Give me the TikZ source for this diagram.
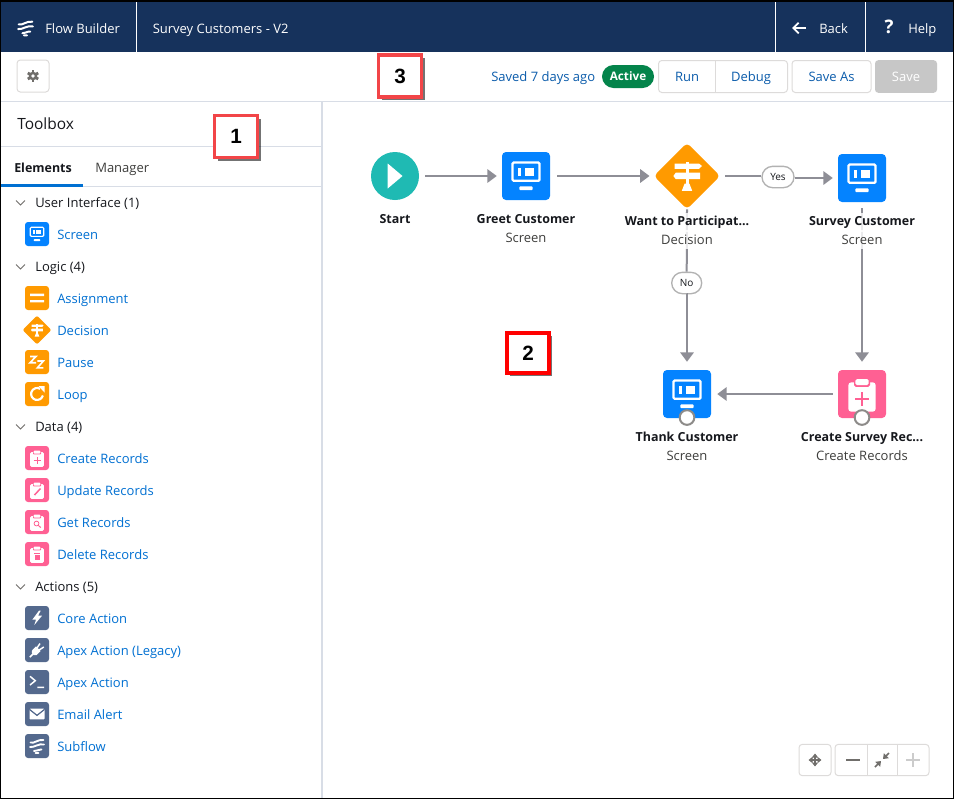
\documentclass[tikz,border=0pt]{standalone}
\usepackage{fontspec}
\setmainfont{Open Sans}
\newfontfamily\digitfont{Liberation Sans}
\usetikzlibrary{shapes.geometric,shapes.misc,arrows.meta,shadows,calc}
\definecolor{navy}{HTML}{16325C}
\definecolor{linkblue}{HTML}{0070D2}
\definecolor{btnblue}{HTML}{0B5CAB}
\definecolor{rule}{HTML}{D8DDE6}
\definecolor{btnrule}{HTML}{DDDBDA}
\definecolor{screenblue}{HTML}{0483FF}
\definecolor{logicorange}{HTML}{FF9A00}
\definecolor{datapink}{HTML}{FF6093}
\definecolor{actionslate}{HTML}{54698D}
\definecolor{startteal}{HTML}{1FBAB3}
\definecolor{connector}{HTML}{8E8E96}
\definecolor{inktext}{HTML}{16181D}
\definecolor{subtext}{HTML}{3E3E3C}
\definecolor{calloutred}{HTML}{F24548}
\definecolor{iconmid}{HTML}{706E6B}
\definecolor{activegreen}{HTML}{04844B}
\tikzset{
  fs/.style={font=\fontsize{9.75pt}{12pt}\selectfont,yshift=-1.4pt},
  link/.style={fs,text=linkblue,anchor=mid west,inner sep=0pt},
  grouphead/.style={fs,text=inktext,anchor=mid west,inner sep=0pt},
  nameline/.style={fs,text=inktext,inner sep=0.5pt,anchor=mid,font=\fontsize{9.35pt}{12pt}\selectfont\bfseries},
  typeline/.style={fs,text=subtext,inner sep=0.5pt,anchor=mid},
  veil/.style={fill=white,fill opacity=.82,text opacity=1,minimum height=14.25pt},
  navtext/.style={fs,text=white,anchor=mid west,inner sep=0pt},
  sq/.style={rectangle,rounded corners=2.25pt,inner sep=0pt,minimum size=18pt,fill=#1},
  bigsq/.style={rectangle,rounded corners=3pt,inner sep=0pt,minimum size=36pt,fill=#1},
  minidia/.style={diamond,aspect=1,rounded corners=1.5pt,inner sep=0pt,minimum size=21.8pt,fill=logicorange},
  conn/.style={draw=connector,line width=1.5pt,-{Triangle[length=7pt,width=10pt]}},
  connplain/.style={draw=connector,line width=1.5pt},
  pill/.style={rounded rectangle,draw=black!30,line width=1pt,fill=white,inner sep=0pt,text=inktext,font=\fontsize{7.5pt}{9pt}\selectfont,minimum height=16pt},
  endmark/.style={circle,draw=iconmid!80,line width=1.5pt,fill=white,inner sep=0pt,minimum size=11pt},
  callout/.style={rectangle,draw=calloutred,line width=2.4pt,fill=white,inner sep=0pt,minimum width=32pt,minimum height=31.5pt,text=black,font=\digitfont\fontsize{15.5pt}{18pt}\selectfont\bfseries,drop shadow={shadow xshift=2.4pt,shadow yshift=-2.4pt,opacity=.55,fill=black}},
  btn/.style={rectangle,rounded corners=2.5pt,draw=btnrule,line width=.75pt,fill=white,inner sep=0pt},
  btntext/.style={fs,text=btnblue,inner sep=0pt,anchor=mid},
}
% glyphs: 24 units = toolbox icon; #1 node, #2 scale
\newcommand\gscreen[2]{\begin{scope}[shift={(#1.center)},scale=#2]
  \draw[white,line width=#2*.85pt,rounded corners=.8pt] (-6.7,-6.7) rectangle (6.7,2.4);
  \fill[white] (-4.2,-4.2) rectangle (-2.3,.2);
  \fill[white] (-.6,-4.2) rectangle (4.1,.2);
  \fill[white,rounded corners=.6pt] (-3.3,5.2) rectangle (3.3,7);
\end{scope}}
\newcommand\gsign[2]{\begin{scope}[shift={(#1.center)},scale=#2]
  \fill[white] (-.75,-6.9) rectangle (.75,5);
  \fill[white] (-6.2,-6.2) -- (6,-6.2) -- (7.5,-5) -- (6,-3.6) -- (-6.2,-3.6) -- cycle;
  \fill[white] (-5.6,-1.7) -- (6.6,-1.7) -- (6.6,1.6) -- (-5.6,1.6) -- (-6.8,0) -- cycle;
  \fill[white] (-1.2,3.8) -- (1.2,3.8) -- (2.6,7.4) -- (-2.6,7.4) -- cycle;
\end{scope}}
\newcommand\gclip[2]{\begin{scope}[shift={(#1.center)},scale=#2]
  \fill[white,rounded corners=#2*1pt] (-6.8,-5.8) rectangle (6.8,8.8);
  \fill[datapink,rounded corners=#2*.6pt] (-4,-8.1) rectangle (4,-3.6);
  \fill[white,rounded corners=#2*.6pt] (-3.3,-7.5) rectangle (3.3,-4.4);
\end{scope}}
\newcommand\gplus[2]{\begin{scope}[shift={(#1.center)},scale=#2]
  \draw[datapink,line width=#2*.7pt] (-3.5,2.6) -- (3.5,2.6) (0,-.9) -- (0,6.1);
\end{scope}}
\newcommand\gwaves[3]{\begin{scope}[shift={(#1.center)},scale=#2]
  \draw[white,line width=#3,line cap=round]
    (-6.5,-3.5) .. controls (-3,-2) and (1,-7) .. (6.5,-6)
    (-7,1) .. controls (-3,1.8) and (2,-3) .. (7,-1.5)
    (-3,5) .. controls (-1,5.8) and (1,3) .. (4.5,3.4)
    (-1.5,7) -- (1.5,7);
\end{scope}}
\begin{document}
\begin{tikzpicture}[x=.75pt,y=-.75pt]
\useasboundingbox (0,0) rectangle (955,800);
\fill[white] (0,0) rectangle (955,800);
% chrome
\fill[navy] (1,1.5) rectangle (953,52);
\draw[white,line width=.75pt] (136.5,1.5) -- (136.5,52) (775,1.5) -- (775,52) (865,1.5) -- (865,52);
\draw[rule,line width=.9pt] (1,101.5) -- (953,101.5);
\draw[rule,line width=1.5pt] (321.5,101.5) -- (321.5,798);
\draw[rule,line width=.75pt] (1,146.5) -- (321,146.5) (1,186.5) -- (321,186.5);
\fill[linkblue] (1,184) rectangle (83,187);
% header
\node[rectangle,inner sep=0pt,minimum size=12pt] (flowlogo) at (25.5,28) {};
\gwaves{flowlogo}{1.05}{1.5pt}
\node[navtext] (appname) at (45,28) {Flow Builder};
\node[navtext] (flowname) at (152.5,28) {Survey Customers - V2};
\draw[white,line width=1.4pt,-{Straight Barb[length=4pt,width=8pt]}] (806,28) -- (792,28);
\node[navtext] (backtxt) at (819,28) {Back};
\node[anchor=mid,inner sep=0pt,text=white,font=\fontsize{14pt}{16pt}\selectfont\bfseries] (helpmark) at (889,30) {?};
\node[navtext] (helptxt) at (908,28) {Help};
% toolbar
\node[btn,minimum size=24pt] (gearbtn) at (33,76) {};
\fill[iconmid] (gearbtn.center) circle[radius=4.3];
\foreach \a in {0,60,...,300} \fill[iconmid,rotate around={\a:(gearbtn.center)}] ($(gearbtn.center)+(-1.4,-6)$) rectangle ($(gearbtn.center)+(1.4,-3)$);
\fill[white] (gearbtn.center) circle[radius=1.9];
\node[fs,text=btnblue,anchor=mid west,inner sep=0pt] (saved) at (491,76) {Saved 7 days ago};
\node[rounded rectangle,fill=activegreen,inner sep=0pt,minimum width=39pt,minimum height=17.25pt,text=white,font=\fontsize{8.8pt}{10pt}\selectfont\bfseries] (activepill) at (628,76.5) {Active};
\node[btn,minimum width=96.75pt,minimum height=24pt] (rundebug) at (723,76.5) {};
\draw[btnrule,line width=.75pt] (715,61) -- (715,92);
\node[btntext] (runtxt) at (687,76.5) {Run};
\node[btntext] (debugtxt) at (751,76.5) {Debug};
\node[btn,minimum width=59.25pt,minimum height=24pt] (saveasbtn) at (831.5,76.5) {};
\node[btntext] (saveastxt) at (831.5,76.5) {Save As};
\node[btn,draw=none,fill=black!22,minimum width=46.5pt,minimum height=24.5pt] (savebtn) at (906,76.5) {};
\node[fs,text=white,inner sep=0pt,anchor=mid] (savetxt) at (906,76.5) {Save};
% toolbox
\node[anchor=mid west,inner sep=0pt,text=inktext,yshift=-1.5pt,font=\fontsize{11.6pt}{14pt}\selectfont] (toolbox) at (17,124) {Toolbox};
\node[anchor=mid west,inner sep=0pt,text=inktext,yshift=-1.4pt,font=\fontsize{9.35pt}{12pt}\selectfont\bfseries] (tabel) at (14,167) {Elements};
\node[fs,anchor=mid west,inner sep=0pt,text=subtext] (tabma) at (95,167) {Manager};
\foreach \y/\t in {202/User Interface (1),266/Logic (4),426/Data (4),586/Actions (5)}{
  \draw[iconmid,line width=.75pt] (16,\y-1.5) -- (20.5,\y+3) -- (25,\y-1.5);
  \node[grouphead] at (35,\y) {\t};
}
\foreach \y/\t in {234/Screen,298/Assignment,330/Decision,362/Pause,394/Loop,458/Create Records,490/Update Records,522/Get Records,554/Delete Records,618/Core Action,650/Apex Action (Legacy),682/Apex Action,714/Email Alert,746/Subflow}{
  \node[link] at (57,\y) {\t};
}
% toolbox icons
\node[sq=screenblue] (iscreen) at (37,234) {}; \gscreen{iscreen}{1}
\node[sq=logicorange] (iassign) at (37,298) {};
\fill[white] (30,293.7) rectangle (44,296) (30,300) rectangle (44,302.3);
\node[minidia] (idecision) at (37,330) {}; \gsign{idecision}{.88}
\node[sq=logicorange] (ipause) at (37,362) {};
\begin{scope}[shift={(ipause.center)}]
\draw[white,line width=1.2pt,line join=miter] (-7,-5.5) -- (-1,-5.5) -- (-7,.7) -- (-1,.7) (.4,-1) -- (6.4,-1) -- (.4,5.8) -- (6.4,5.8);
\end{scope}
\node[sq=logicorange] (iloop) at (37,394) {};
\begin{scope}[shift={(iloop.center)}]
\draw[white,line width=1.6pt] (5.9,1.5) arc[start angle=15,end angle=300,radius=6];
\fill[white] (1.5,-8) -- (7.5,-8) -- (7.5,-1.5) -- cycle;
\end{scope}
\node[sq=datapink] (icreate) at (37,458) {}; \gclip{icreate}{1} \gplus{icreate}{1}
\node[sq=datapink] (iupdate) at (37,490) {}; \gclip{iupdate}{1}
\draw[datapink,line width=1.1pt] ($(iupdate.center)+(-2.5,5)$) -- ($(iupdate.center)+(3.5,-1.5)$);
\node[sq=datapink] (iget) at (37,522) {}; \gclip{iget}{1}
\draw[datapink,line width=.6pt] ($(iget.center)+(-.5,1.5)$) circle[radius=2.4];
\draw[datapink,line width=.7pt] ($(iget.center)+(1.3,3.3)$) -- ($(iget.center)+(3.8,5.6)$);
\node[sq=datapink] (idelete) at (37,554) {}; \gclip{idelete}{1}
\fill[datapink] ($(idelete.center)+(-3.3,-.8)$) rectangle ($(idelete.center)+(3.3,.2)$);
\fill[datapink] ($(idelete.center)+(-2.5,1)$) rectangle ($(idelete.center)+(2.5,6)$);
\node[sq=actionslate] (icore) at (37,618) {};
\fill[white,shift={(icore.center)}] (2,-7.3) -- (-4.7,1.7) -- (-1,1.7) -- (-2.7,7) -- (5,-2.3) -- (1,-2.3) -- (3.7,-7.3) -- cycle;
\node[sq=actionslate] (ilegacy) at (37,650) {};
\begin{scope}[shift={(ilegacy.center)}]
\fill[white] (-5.2,.7) -- (-1,-3.6) -- (3.6,1) -- (-.4,5) -- (-3.5,5) -- (-5.2,3.2) -- cycle;
\draw[white,line width=1.1pt] (-4,4) -- (-7.2,7.2) (-.2,-1.8) -- (3,-6.5) (1.8,.2) -- (6.8,-3);
\end{scope}
\node[sq=actionslate] (iapex) at (37,682) {};
\begin{scope}[shift={(iapex.center)}]
\draw[white,line width=1.1pt] (-7,-5.7) -- (-1.7,-1.3) -- (-7,3) (.3,5.3) -- (7,5.3);
\end{scope}
\node[sq=actionslate] (iemail) at (37,714) {};
\begin{scope}[shift={(iemail.center)}]
\fill[white,rounded corners=.6pt] (-7.5,-5.3) rectangle (7.5,5.3);
\draw[actionslate,line width=.9pt] (-7.5,-4.6) -- (0,1.4) -- (7.5,-4.6);
\end{scope}
\node[sq=actionslate] (isubflow) at (37,746) {}; \gwaves{isubflow}{1}{1.4pt}
% canvas nodes
\node[circle,fill=startteal,inner sep=0pt,minimum size=36pt] (start) at (395,176) {};
\fill[white,shift={(start.center)}] (-7.3,-12.5) -- (7.5,0) -- (-7.3,12.5) -- cycle;
\node[bigsq=screenblue] (greet) at (526,176) {}; \gscreen{greet}{2}
\node[diamond,aspect=1,rounded corners=3pt,inner sep=0pt,minimum size=49.8pt,fill=logicorange] (want) at (687,176) {}; \gsign{want}{2}
\node[bigsq=screenblue] (survey) at (862,178) {}; \gscreen{survey}{2}
\node[bigsq=screenblue] (thank) at (687,394) {}; \gscreen{thank}{2}
\node[bigsq=datapink] (createrec) at (862,394) {}; \gclip{createrec}{2} \gplus{createrec}{2}
\node[endmark] (thankend) at (687,417.5) {};
\node[endmark] (createend) at (862,417.5) {};
\node[pill,minimum width=24pt] (yes) at (778,177) {Yes};
\node[pill,minimum width=22.5pt] (no) at (686.7,283) {No};
% connectors
\draw[conn,shorten <=4.5pt,shorten >=3.75pt] (start.east) -- (greet.west);
\draw[conn,shorten <=5.25pt,shorten >=3pt] (greet.east) -- (want.west);
\draw[connplain,shorten <=3.75pt] (want.east) -- (want.east -| yes.west);
\draw[conn,shorten >=3.75pt] (yes.east |- survey.west) -- (survey.west);
\draw[connplain] (want.south) -- (no.north);
\draw[conn,shorten >=6pt] (no.south) -- (no.south -| thank.north) -- (thank.north);
\draw[conn,shorten <=4.5pt,shorten >=6pt] (survey.south) -- (createrec.north);
\draw[conn,shorten <=3.75pt,shorten >=4.5pt] (createrec.west) -- (thank.east);
% canvas labels
\node[nameline] (lstart) at (395,218) {Start};
\node[nameline] (lgreet) at (526,218) {Greet Customer};
\node[typeline] (tgreet) at (526,237) {Screen};
\node[nameline,veil] (lwant) at (687,220) {Want to Participat...};
\node[typeline,veil] (twant) at (687,239) {Decision};
\node[nameline,veil] (lsurvey) at (862,220) {Survey Customer};
\node[typeline,veil] (tsurvey) at (862,239) {Screen};
\node[nameline] (lthank) at (687,436) {Thank Customer};
\node[typeline] (tthank) at (687,455) {Screen};
\node[nameline] (lcreate) at (862,436) {Create Survey Rec...};
\node[typeline] (tcreate) at (862,455) {Create Records};
% zoom controls
\node[btn,minimum width=24pt,minimum height=23.5pt] (panbtn) at (815,760) {};
\begin{scope}[shift={(panbtn.center)}]
\draw[iconmid,line width=.9pt,{Triangle[length=3pt,width=4.5pt]}-{Triangle[length=3pt,width=4.5pt]}] (-6.5,0) -- (6.5,0);
\draw[iconmid,line width=.9pt,{Triangle[length=3pt,width=4.5pt]}-{Triangle[length=3pt,width=4.5pt]}] (0,-6.5) -- (0,6.5);
\end{scope}
\node[btn,minimum width=70.5pt,minimum height=23.5pt] (zoomgrp) at (882,760) {};
\draw[btnrule,line width=.75pt] (867,744.5) -- (867,775.5) (897,744.5) -- (897,775.5);
\draw[iconmid,line width=1.1pt] (846,760) -- (860,760);
\begin{scope}[shift={(882,760)}]
\draw[iconmid,line width=1.1pt,-{Triangle[length=3.5pt,width=5pt]}] (-7,7) -- (-1,1);
\draw[iconmid,line width=1.1pt,-{Triangle[length=3.5pt,width=5pt]}] (7,-7) -- (1,-1);
\end{scope}
\draw[black!20,line width=1.1pt] (906,760) -- (920,760) (913,753) -- (913,767);
% callouts
\node[callout] (callout1) at (236,136.5) {1};
\node[callout,draw=red,line width=3pt,minimum width=31.5pt,minimum height=30pt] (callout2) at (528,353) {2};
\node[callout] (callout3) at (400,76) {3};
% frame
\draw[black,line width=1.1pt] (.5,1) rectangle (953.5,798.5);
\end{tikzpicture}
\end{document}
